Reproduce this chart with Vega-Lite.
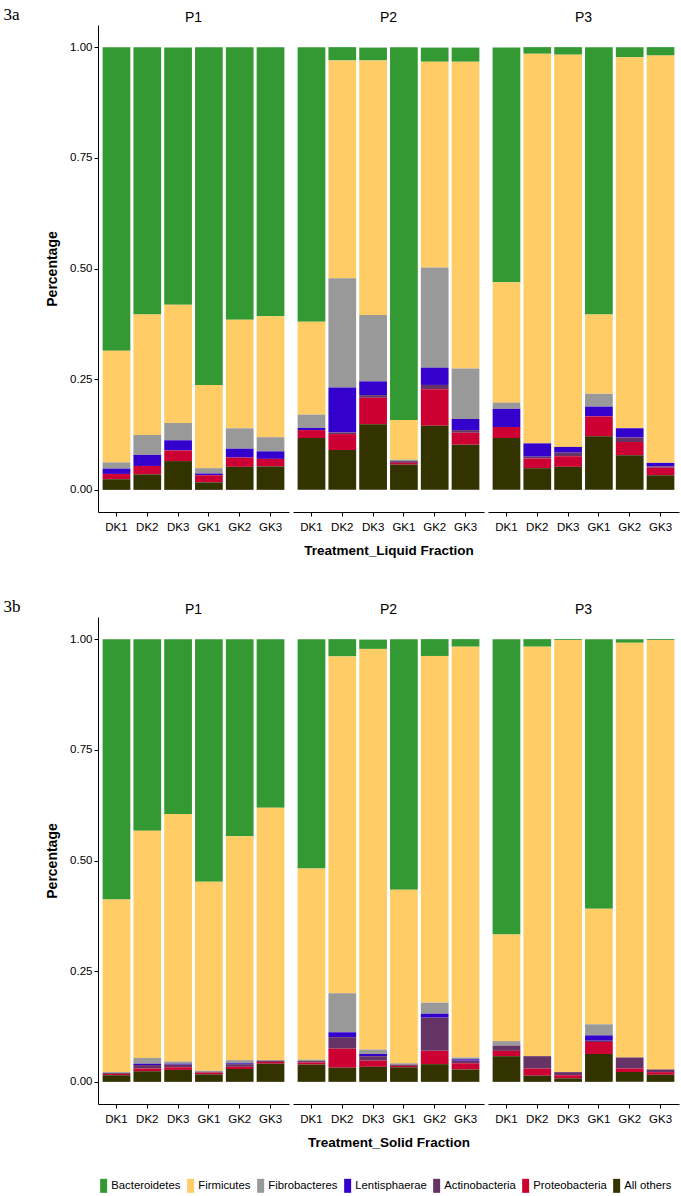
{
  "$schema": "https://vega.github.io/schema/vega-lite/v6.json",
  "padding": {"left": 3, "top": 6, "right": 5, "bottom": 5},
  "background": "white",
  "datasets": {
    "liquid": [
      {"P": "P1", "S": "DK1", "Bacteroidetes": 0.686, "Firmicutes": 0.252, "Fibrobacteres": 0.014, "Lentisphaerae": 0.012, "Actinobacteria": 0, "Proteobacteria": 0.012, "All others": 0.024},
      {"P": "P1", "S": "DK2", "Bacteroidetes": 0.604, "Firmicutes": 0.272, "Fibrobacteres": 0.045, "Lentisphaerae": 0.025, "Actinobacteria": 0, "Proteobacteria": 0.019, "All others": 0.035},
      {"P": "P1", "S": "DK3", "Bacteroidetes": 0.581, "Firmicutes": 0.267, "Fibrobacteres": 0.039, "Lentisphaerae": 0.023, "Actinobacteria": 0, "Proteobacteria": 0.024, "All others": 0.065},
      {"P": "P1", "S": "GK1", "Bacteroidetes": 0.763, "Firmicutes": 0.188, "Fibrobacteres": 0.012, "Lentisphaerae": 0.004, "Actinobacteria": 0, "Proteobacteria": 0.016, "All others": 0.017},
      {"P": "P1", "S": "GK2", "Bacteroidetes": 0.616, "Firmicutes": 0.245, "Fibrobacteres": 0.046, "Lentisphaerae": 0.020, "Actinobacteria": 0, "Proteobacteria": 0.021, "All others": 0.052},
      {"P": "P1", "S": "GK3", "Bacteroidetes": 0.608, "Firmicutes": 0.273, "Fibrobacteres": 0.032, "Lentisphaerae": 0.017, "Actinobacteria": 0, "Proteobacteria": 0.017, "All others": 0.053},
      {"P": "P2", "S": "DK1", "Bacteroidetes": 0.620, "Firmicutes": 0.210, "Fibrobacteres": 0.030, "Lentisphaerae": 0.005, "Actinobacteria": 0, "Proteobacteria": 0.018, "All others": 0.117},
      {"P": "P2", "S": "DK2", "Bacteroidetes": 0.030, "Firmicutes": 0.492, "Fibrobacteres": 0.247, "Lentisphaerae": 0.101, "Actinobacteria": 0.004, "Proteobacteria": 0.036, "All others": 0.090},
      {"P": "P2", "S": "DK3", "Bacteroidetes": 0.029, "Firmicutes": 0.575, "Fibrobacteres": 0.150, "Lentisphaerae": 0.031, "Actinobacteria": 0.006, "Proteobacteria": 0.060, "All others": 0.148},
      {"P": "P2", "S": "GK1", "Bacteroidetes": 0.842, "Firmicutes": 0.090, "Fibrobacteres": 0.003, "Lentisphaerae": 0, "Actinobacteria": 0.004, "Proteobacteria": 0.004, "All others": 0.057},
      {"P": "P2", "S": "GK2", "Bacteroidetes": 0.032, "Firmicutes": 0.465, "Fibrobacteres": 0.226, "Lentisphaerae": 0.039, "Actinobacteria": 0.010, "Proteobacteria": 0.082, "All others": 0.145},
      {"P": "P2", "S": "GK3", "Bacteroidetes": 0.032, "Firmicutes": 0.693, "Fibrobacteres": 0.114, "Lentisphaerae": 0.025, "Actinobacteria": 0.006, "Proteobacteria": 0.027, "All others": 0.102},
      {"P": "P3", "S": "DK1", "Bacteroidetes": 0.530, "Firmicutes": 0.272, "Fibrobacteres": 0.014, "Lentisphaerae": 0.041, "Actinobacteria": 0, "Proteobacteria": 0.025, "All others": 0.117},
      {"P": "P3", "S": "DK2", "Bacteroidetes": 0.015, "Firmicutes": 0.880, "Fibrobacteres": 0, "Lentisphaerae": 0.030, "Actinobacteria": 0.004, "Proteobacteria": 0.022, "All others": 0.049},
      {"P": "P3", "S": "DK3", "Bacteroidetes": 0.017, "Firmicutes": 0.886, "Fibrobacteres": 0, "Lentisphaerae": 0.013, "Actinobacteria": 0.008, "Proteobacteria": 0.024, "All others": 0.052},
      {"P": "P3", "S": "GK1", "Bacteroidetes": 0.604, "Firmicutes": 0.179, "Fibrobacteres": 0.029, "Lentisphaerae": 0.022, "Actinobacteria": 0, "Proteobacteria": 0.045, "All others": 0.121},
      {"P": "P3", "S": "GK2", "Bacteroidetes": 0.023, "Firmicutes": 0.838, "Fibrobacteres": 0, "Lentisphaerae": 0.021, "Actinobacteria": 0.010, "Proteobacteria": 0.030, "All others": 0.078},
      {"P": "P3", "S": "GK3", "Bacteroidetes": 0.019, "Firmicutes": 0.920, "Fibrobacteres": 0, "Lentisphaerae": 0.008, "Actinobacteria": 0.003, "Proteobacteria": 0.017, "All others": 0.033}
    ],
    "solid": [
      {"P": "P1", "S": "DK1", "Bacteroidetes": 0.588, "Firmicutes": 0.390, "Fibrobacteres": 0.002, "Lentisphaerae": 0, "Actinobacteria": 0.002, "Proteobacteria": 0.003, "All others": 0.015},
      {"P": "P1", "S": "DK2", "Bacteroidetes": 0.433, "Firmicutes": 0.513, "Fibrobacteres": 0.013, "Lentisphaerae": 0.003, "Actinobacteria": 0.008, "Proteobacteria": 0.006, "All others": 0.024},
      {"P": "P1", "S": "DK3", "Bacteroidetes": 0.395, "Firmicutes": 0.559, "Fibrobacteres": 0.005, "Lentisphaerae": 0.002, "Actinobacteria": 0.006, "Proteobacteria": 0.006, "All others": 0.027},
      {"P": "P1", "S": "GK1", "Bacteroidetes": 0.548, "Firmicutes": 0.427, "Fibrobacteres": 0.002, "Lentisphaerae": 0, "Actinobacteria": 0.002, "Proteobacteria": 0.004, "All others": 0.017},
      {"P": "P1", "S": "GK2", "Bacteroidetes": 0.445, "Firmicutes": 0.506, "Fibrobacteres": 0.007, "Lentisphaerae": 0.002, "Actinobacteria": 0.006, "Proteobacteria": 0.005, "All others": 0.029},
      {"P": "P1", "S": "GK3", "Bacteroidetes": 0.381, "Firmicutes": 0.570, "Fibrobacteres": 0.001, "Lentisphaerae": 0, "Actinobacteria": 0.003, "Proteobacteria": 0.004, "All others": 0.041},
      {"P": "P2", "S": "DK1", "Bacteroidetes": 0.518, "Firmicutes": 0.432, "Fibrobacteres": 0.003, "Lentisphaerae": 0, "Actinobacteria": 0.003, "Proteobacteria": 0.005, "All others": 0.039},
      {"P": "P2", "S": "DK2", "Bacteroidetes": 0.039, "Firmicutes": 0.761, "Fibrobacteres": 0.088, "Lentisphaerae": 0.011, "Actinobacteria": 0.026, "Proteobacteria": 0.043, "All others": 0.032},
      {"P": "P2", "S": "DK3", "Bacteroidetes": 0.021, "Firmicutes": 0.905, "Fibrobacteres": 0.010, "Lentisphaerae": 0.005, "Actinobacteria": 0.010, "Proteobacteria": 0.014, "All others": 0.034},
      {"P": "P2", "S": "GK1", "Bacteroidetes": 0.566, "Firmicutes": 0.392, "Fibrobacteres": 0.003, "Lentisphaerae": 0, "Actinobacteria": 0.003, "Proteobacteria": 0.003, "All others": 0.033},
      {"P": "P2", "S": "GK2", "Bacteroidetes": 0.038, "Firmicutes": 0.783, "Fibrobacteres": 0.025, "Lentisphaerae": 0.009, "Actinobacteria": 0.075, "Proteobacteria": 0.030, "All others": 0.040},
      {"P": "P2", "S": "GK3", "Bacteroidetes": 0.017, "Firmicutes": 0.928, "Fibrobacteres": 0.004, "Lentisphaerae": 0.003, "Actinobacteria": 0.006, "Proteobacteria": 0.014, "All others": 0.028},
      {"P": "P3", "S": "DK1", "Bacteroidetes": 0.667, "Firmicutes": 0.241, "Fibrobacteres": 0.010, "Lentisphaerae": 0, "Actinobacteria": 0.012, "Proteobacteria": 0.012, "All others": 0.058},
      {"P": "P3", "S": "DK2", "Bacteroidetes": 0.017, "Firmicutes": 0.925, "Fibrobacteres": 0, "Lentisphaerae": 0, "Actinobacteria": 0.028, "Proteobacteria": 0.016, "All others": 0.014},
      {"P": "P3", "S": "DK3", "Bacteroidetes": 0.002, "Firmicutes": 0.976, "Fibrobacteres": 0, "Lentisphaerae": 0, "Actinobacteria": 0.007, "Proteobacteria": 0.007, "All others": 0.008},
      {"P": "P3", "S": "GK1", "Bacteroidetes": 0.609, "Firmicutes": 0.261, "Fibrobacteres": 0.025, "Lentisphaerae": 0.012, "Actinobacteria": 0.003, "Proteobacteria": 0.027, "All others": 0.063},
      {"P": "P3", "S": "GK2", "Bacteroidetes": 0.008, "Firmicutes": 0.937, "Fibrobacteres": 0, "Lentisphaerae": 0, "Actinobacteria": 0.025, "Proteobacteria": 0.008, "All others": 0.022},
      {"P": "P3", "S": "GK3", "Bacteroidetes": 0.002, "Firmicutes": 0.970, "Fibrobacteres": 0, "Lentisphaerae": 0, "Actinobacteria": 0.006, "Proteobacteria": 0.006, "All others": 0.016}
    ]
  },
  "vconcat": [
    {
      "data": {"name": "liquid"},
      "transform": [
        {"fold": ["Bacteroidetes", "Firmicutes", "Fibrobacteres", "Lentisphaerae", "Actinobacteria", "Proteobacteria", "All others"], "as": ["Phylum", "Value"]},
        {"calculate": "indexof(['All others','Proteobacteria','Actinobacteria','Lentisphaerae','Fibrobacteres','Firmicutes','Bacteroidetes'], datum.Phylum)", "as": "rank"}
      ],
      "title": {"text": "3a", "anchor": "start", "frame": "bounds", "font": "Liberation Serif", "fontSize": 17, "fontWeight": "normal", "color": "black", "offset": -13, "dx": -42},
      "facet": {"column": {"field": "P", "type": "nominal", "title": "Treatment_Liquid Fraction"}},
      "spacing": 4,
      "spec": {
        "width": 191,
        "height": 487,
        "mark": {"type": "bar"},
        "encoding": {
          "x": {"field": "S", "type": "nominal", "scale": {"paddingInner": 0.1, "paddingOuter": 0.15}, "axis": {"title": null}},
          "y": {"field": "Value", "type": "quantitative", "stack": "zero", "scale": {"domain": [-0.05, 1.05], "nice": false, "zero": false}, "axis": {"title": "Percentage", "values": [0, 0.25, 0.5, 0.75, 1], "format": ".2f"}},
          "color": {"field": "Phylum", "type": "nominal", "scale": {"domain": ["Bacteroidetes", "Firmicutes", "Fibrobacteres", "Lentisphaerae", "Actinobacteria", "Proteobacteria", "All others"], "range": ["#339933", "#FFCC66", "#999999", "#3300CC", "#663366", "#CC0033", "#333300"]}},
          "order": {"field": "rank", "type": "quantitative"}
        }
      }
    },
    {
      "data": {"name": "solid"},
      "transform": [
        {"fold": ["Bacteroidetes", "Firmicutes", "Fibrobacteres", "Lentisphaerae", "Actinobacteria", "Proteobacteria", "All others"], "as": ["Phylum", "Value"]},
        {"calculate": "indexof(['All others','Proteobacteria','Actinobacteria','Lentisphaerae','Fibrobacteres','Firmicutes','Bacteroidetes'], datum.Phylum)", "as": "rank"}
      ],
      "title": {"text": "3b", "anchor": "start", "frame": "bounds", "font": "Liberation Serif", "fontSize": 17, "fontWeight": "normal", "color": "black", "offset": -13, "dx": -42},
      "facet": {"column": {"field": "P", "type": "nominal", "title": "Treatment_Solid Fraction"}},
      "spacing": 4,
      "spec": {
        "width": 191,
        "height": 487,
        "mark": {"type": "bar"},
        "encoding": {
          "x": {"field": "S", "type": "nominal", "scale": {"paddingInner": 0.1, "paddingOuter": 0.15}, "axis": {"title": null}},
          "y": {"field": "Value", "type": "quantitative", "stack": "zero", "scale": {"domain": [-0.05, 1.05], "nice": false, "zero": false}, "axis": {"title": "Percentage", "values": [0, 0.25, 0.5, 0.75, 1], "format": ".2f"}},
          "color": {"field": "Phylum", "type": "nominal", "scale": {"domain": ["Bacteroidetes", "Firmicutes", "Fibrobacteres", "Lentisphaerae", "Actinobacteria", "Proteobacteria", "All others"], "range": ["#339933", "#FFCC66", "#999999", "#3300CC", "#663366", "#CC0033", "#333300"]}},
          "order": {"field": "rank", "type": "quantitative"}
        }
      }
    }
  ],
  "spacing": 40,
  "resolve": {"scale": {"color": "shared"}},
  "config": {
    "view": {"stroke": null},
    "axis": {"domainColor": "black", "tickColor": "black", "labelColor": "black", "titleColor": "black", "labelFont": "Liberation Sans, Arial, sans-serif", "labelFontSize": 11.5, "titleFont": "Liberation Sans, Arial, sans-serif", "titleFontSize": 14, "titleFontWeight": "bold", "grid": false, "tickSize": 4, "labelPadding": 2},
    "axisX": {"labelAngle": 0, "labelPadding": 5},
    "axisY": {"titlePadding": 10},
    "header": {"labelFont": "Liberation Sans, Arial, sans-serif", "labelFontSize": 14, "labelColor": "black", "labelPadding": 0, "labelOrient": "top", "titleOrient": "bottom", "titleFont": "Liberation Sans, Arial, sans-serif", "titleFontSize": 13.5, "titleFontWeight": "bold", "titleColor": "black", "titlePadding": 1},
    "legend": {"orient": "bottom", "direction": "horizontal", "title": null, "symbolType": "M-1,-2H1V2H-1Z", "symbolSize": 49, "symbolStrokeWidth": 0, "labelFont": "Liberation Sans, Arial, sans-serif", "labelFontSize": 11.3, "labelColor": "black", "columnPadding": 4, "labelOffset": 2, "offset": 30}
  }
}
